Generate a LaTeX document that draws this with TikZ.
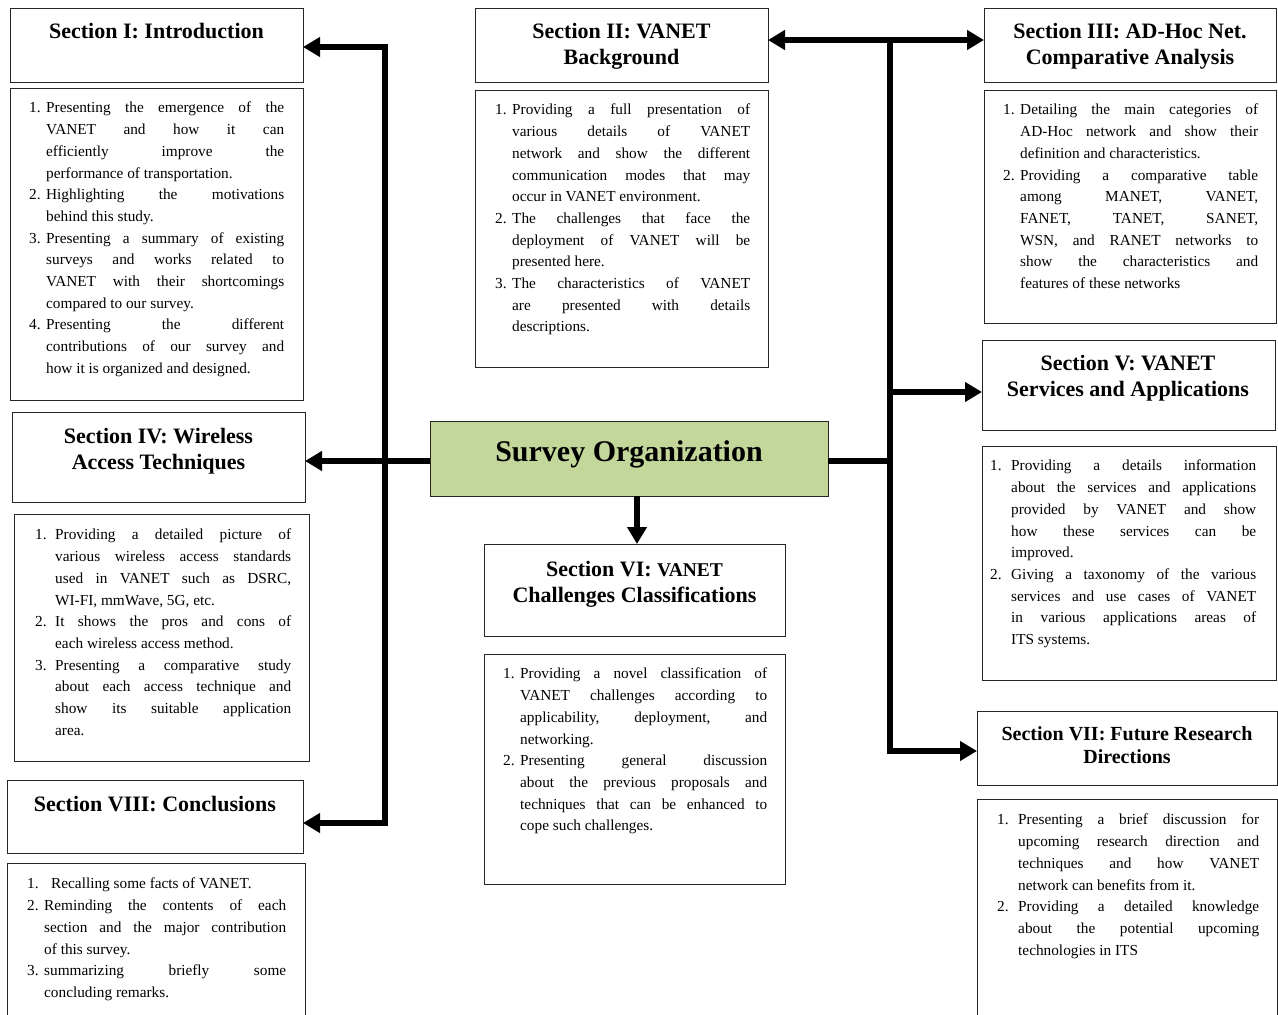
\documentclass[tikz,border=0pt]{standalone}
\usepackage{fontspec}
\setmainfont{Liberation Serif}
\usetikzlibrary{arrows.meta}
\hbadness=10000
\tolerance=10000
\newlength\itemind
% numbered entry with hanging indent
\newcommand\itm[2]{\par\noindent\hangindent=\itemind\hangafter=1\makebox[\itemind][l]{#1}#2\par}
% framed panel given by its corners (x1,y1) (x2,y2)
\newcommand\panel[5]{\node[frame, minimum width={#4-#2}, minimum height={#5-#3}] (#1) at ({(#2+#4)/2},{(#3+#5)/2}) {};}
\begin{document}
\begin{tikzpicture}[x=1pt,y=-1pt,
  frame/.style={draw=black!85, line width=1pt, inner sep=0pt, outer sep=0pt},
  heading/.style={font=\fontsize{22}{26}\selectfont\bfseries, align=center, inner sep=0pt, anchor=north},
  hang/.code={\global\itemind=#1\relax},
  listtext/.style={font=\fontsize{15.3}{21.7}\selectfont, align=justify, inner sep=0pt, anchor=north west},
  link/.style={line width=5.5pt, line join=miter, draw=black},
  tip/.tip={Triangle[length=17pt,width=19pt]},
  arrow/.style={link, -tip},
]
\useasboundingbox (0,0) rectangle (1278,1015);
\clip (0,0) rectangle (1278,1015);

% ---------- frames ----------
\panel{t1}{10}{8}{303}{82}
\panel{b1}{10}{88}{303}{400}
\panel{t2}{475}{8}{768}{82}
\panel{b2}{475}{90}{768}{367}
\panel{t3}{984}{8}{1276}{82}
\panel{b3}{984}{90}{1276}{323}
\panel{t4}{12}{412}{305}{502}
\panel{b4}{14}{514}{309}{761}
\panel{t5}{982}{340}{1275}{430}
\panel{b5}{982}{446}{1276}{680}
\panel{t6}{484}{544}{785}{636}
\panel{b6}{484}{654}{785}{884}
\panel{t7}{977}{711}{1277}{785}
\panel{b7}{977}{799}{1277}{1030}
\panel{t8}{7}{780}{303}{853}
\panel{b8}{7}{863}{305}{1030}
\node[frame, fill={rgb,255:red,196;green,215;blue,155}, minimum width=398, minimum height=75] (c) at (629,458.5) {};

% ---------- headings ----------
\node[inner sep=0pt, anchor=base, font=\fontsize{30}{34}\selectfont\bfseries] (ctext) at (629,461) {Survey Organization};
\node[heading] (h1) at (156.5,23.5) {Section I: Introduction};
\node[heading] (h2) at (621.5,23.5) {Section II: VANET\\Background};
\node[heading] (h3) at (1130,23.5) {Section III: AD-Hoc Net.\\Comparative Analysis};
\node[heading] (h4) at (158.5,428.5) {Section IV: Wireless\\Access Techniques};
\node[heading] (h5) at (1128,355.5) {Section V: VANET\\Services and Applications};
\node[heading] (h6) at (634.5,561.5) {Section VI: {\fontsize{19.5}{26}\selectfont VANET}\\Challenges Classifications};
\node[heading, font=\fontsize{20}{23}\selectfont\bfseries] (h7) at (1127,726) {Section VII: Future Research\\Directions};
\node[heading] (h8) at (155,796.5) {Section VIII: Conclusions};

% ---------- item lists ----------
\node[listtext, hang=17pt, text width=255pt] (l1) at (29,91) {%
\itm{1.}{Presenting the emergence of the\linebreak VANET and how it can\linebreak efficiently improve the\linebreak performance of transportation.}
\itm{2.}{Highlighting the motivations\linebreak behind this study.}
\itm{3.}{Presenting a summary of existing\linebreak surveys and works related to\linebreak VANET with their shortcomings\linebreak compared to our survey.}
\itm{4.}{Presenting the different\linebreak contributions of our survey and\linebreak how it is organized and designed.}};

\node[listtext, hang=17pt, text width=255pt] (l2) at (495,93) {%
\itm{1.}{Providing a full presentation of\linebreak various details of VANET\linebreak network and show the different\linebreak communication modes that may\linebreak occur in VANET environment.}
\itm{2.}{The challenges that face the\linebreak deployment of VANET will be\linebreak presented here.}
\itm{3.}{The characteristics of VANET\linebreak are presented with details\linebreak descriptions.}};

\node[listtext, hang=17pt, text width=255pt] (l3) at (1003,93) {%
\itm{1.}{Detailing the main categories of\linebreak AD-Hoc network and show their\linebreak definition and characteristics.}
\itm{2.}{Providing a comparative table\linebreak among MANET, VANET,\linebreak FANET, TANET, SANET,\linebreak WSN, and RANET networks to\linebreak show the characteristics and\linebreak features of these networks}};

\node[listtext, hang=20pt, text width=256pt] (l4) at (35,518) {%
\itm{1.}{Providing a detailed picture of\linebreak various wireless access standards\linebreak used in VANET such as DSRC,\linebreak WI-FI, mmWave, 5G, etc.}
\itm{2.}{It shows the pros and cons of\linebreak each wireless access method.}
\itm{3.}{Presenting a comparative study\linebreak about each access technique and\linebreak show its suitable application\linebreak area.}};

\node[listtext, hang=21pt, text width=266pt] (l5) at (990,449) {%
\itm{1.}{Providing a details information\linebreak about the services and applications\linebreak provided by VANET and show\linebreak how these services can be\linebreak improved.}
\itm{2.}{Giving a taxonomy of the various\linebreak services and use cases of VANET\linebreak in various applications areas of\linebreak ITS systems.}};

\node[listtext, hang=17pt, text width=264pt] (l6) at (503,657) {%
\itm{1.}{Providing a novel classification of\linebreak VANET challenges according to\linebreak applicability, deployment, and\linebreak networking.}
\itm{2.}{Presenting general discussion\linebreak about the previous proposals and\linebreak techniques that can be enhanced to\linebreak cope such challenges.}};

\node[listtext, hang=21pt, text width=262pt] (l7) at (997,803) {%
\itm{1.}{Presenting a brief discussion for\linebreak upcoming research direction and\linebreak techniques and how VANET\linebreak network can benefits from it.}
\itm{2.}{Providing a detailed knowledge\linebreak about the potential upcoming\linebreak technologies in ITS}};

\node[listtext, hang=17pt, text width=259pt] (l8) at (27,867) {%
\itm{1.}{\hspace{7pt}Recalling some facts of VANET.}
\itm{2.}{Reminding the contents of each\linebreak section and the major contribution\linebreak of this survey.}
\itm{3.}{summarizing briefly some\linebreak concluding remarks.}};

% ---------- connectors ----------
\coordinate (lt) at (385,47);
\coordinate (lb) at (385,823);
\coordinate (rt) at (890,40);
\coordinate (rm) at (890,392);
\coordinate (rb) at (890,751);
\coordinate (cy) at (0,461);
\coordinate (dx) at (637,0);

\draw[arrow] (lb) -- (lt) -- (lt -| t1.east);
\draw[arrow] (lt) -- (lb) -- (lb -| t8.east);
\draw[arrow] (cy -| c.west) -- (cy -| t4.east);
\draw[link] (cy -| c.east) -- (cy -| rt);
\draw[link, tip-tip] (rt -| t2.east) -- (rt -| t3.west);
\draw[arrow] (rt) -- (rb) -- (rb -| t7.west);
\draw[arrow] (rm) -- (rm -| t5.west);
\draw[arrow] (dx |- c.south) -- (dx |- t6.north);
\end{tikzpicture}
\end{document}
